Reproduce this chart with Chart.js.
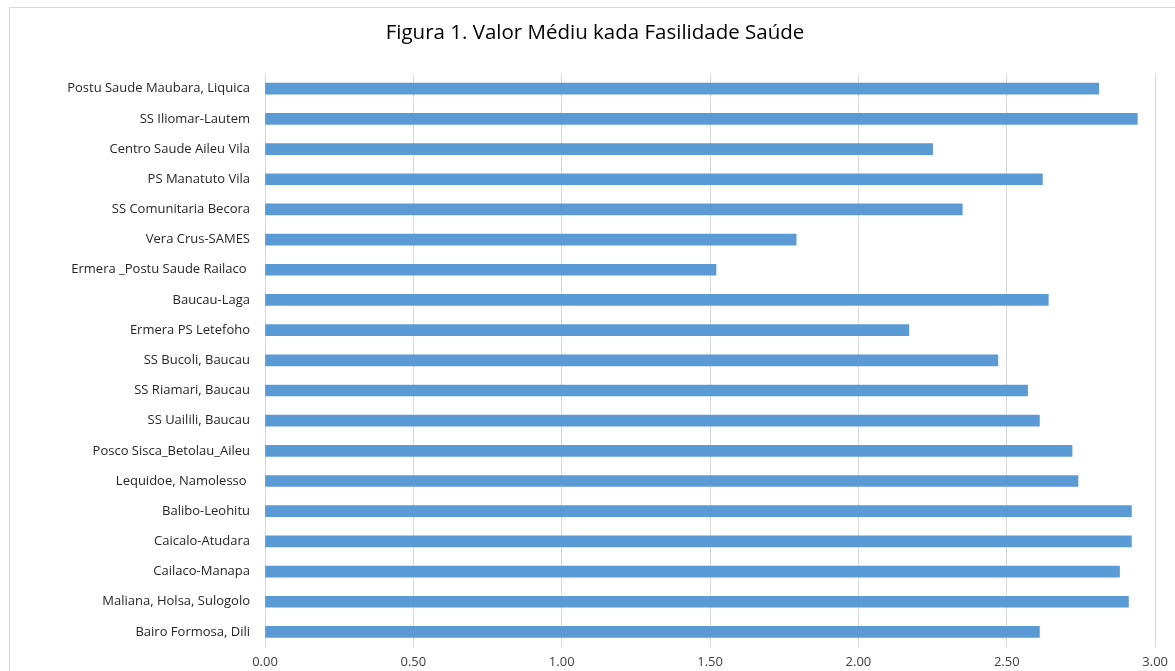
<!DOCTYPE html>
<html>
<head>
<meta charset="utf-8">
<title>Figura 1. Valor Médiu kada Fasilidade Saúde</title>
<script src="https://cdn.jsdelivr.net/npm/chart.js@4"></script>
<style>
  html, body { margin: 0; padding: 0; background: #ffffff; overflow: hidden; }
  #frame {
    position: absolute; left: 9px; top: 7px;
    width: 1200px; height: 700px;
    border: 1px solid #d9d9d9;
  }
  #chart { position: absolute; left: 0; top: 0; }
</style>
</head>
<body>
<div id="frame"></div>
<canvas id="chart" width="1175" height="671"></canvas>
<script>
/* Health facility names, top to bottom as in the figure */
const facilities = [
  'Postu Saude Maubara, Liquica',
  'SS Iliomar-Lautem',
  'Centro Saude Aileu Vila',
  'PS Manatuto Vila',
  'SS Comunitaria Becora',
  'Vera Crus-SAMES',
  'Ermera _Postu Saude Railaco ',
  'Baucau-Laga',
  'Ermera PS Letefoho',
  'SS Bucoli, Baucau',
  'SS Riamari, Baucau',
  'SS Uailili, Baucau',
  'Posco Sisca_Betolau_Aileu',
  'Lequidoe, Namolesso ',
  'Balibo-Leohitu',
  'Caicalo-Atudara',
  'Cailaco-Manapa',
  'Maliana, Holsa, Sulogolo',
  'Bairo Formosa, Dili'
];

/* Average value per facility */
const averageValues = [
  2.81, 2.94, 2.25, 2.62, 2.35, 1.79, 1.52, 2.64, 2.17, 2.47,
  2.57, 2.61, 2.72, 2.74, 2.92, 2.92, 2.88, 2.91, 2.61
];

/* X axis ticks */
const xMin = 0;
const xMax = 3;
const xStep = 0.5;

const titleText = 'Figura 1. Valor Médiu kada Fasilidade Saúde';
const fontFamily = "'Open Sans', 'DejaVu Sans', sans-serif";

const ctx = document.getElementById('chart').getContext('2d');
new Chart(ctx, {
  type: 'bar',
  data: {
    labels: facilities,
    datasets: [{
      data: averageValues,
      backgroundColor: '#5b9bd5',
      borderWidth: 0,
      barThickness: 11
    }]
  },
  options: {
    indexAxis: 'y',
    responsive: false,
    animation: false,
    // left padding keeps the title centred where the original has it
    layout: { padding: { left: 34, right: 19, top: 0, bottom: 0 } },
    plugins: {
      legend: { display: false },
      tooltip: { enabled: false },
      title: {
        display: true,
        text: titleText,
        color: '#000000',
        font: { family: fontFamily, size: 20.5, weight: 'normal' },
        padding: { top: 21, bottom: 28 }
      }
    },
    scales: {
      x: {
        min: xMin,
        max: xMax,
        ticks: {
          stepSize: xStep,
          color: '#404040',
          font: { family: fontFamily, size: 13 },
          padding: 7,
          callback: v => Number(v).toFixed(2)
        },
        grid: { color: '#d9d9d9', lineWidth: 1, drawTicks: false },
        border: { display: false },
        afterFit: scale => { scale.height = 24; }
      },
      y: {
        ticks: {
          color: '#262626',
          font: { family: fontFamily, size: 13 },
          padding: 15,
          autoSkip: false
        },
        grid: { display: false, drawTicks: false },
        border: { display: false },
        afterFit: scale => { scale.width = 231; }
      }
    }
  }
});
</script>
</body>
</html>
